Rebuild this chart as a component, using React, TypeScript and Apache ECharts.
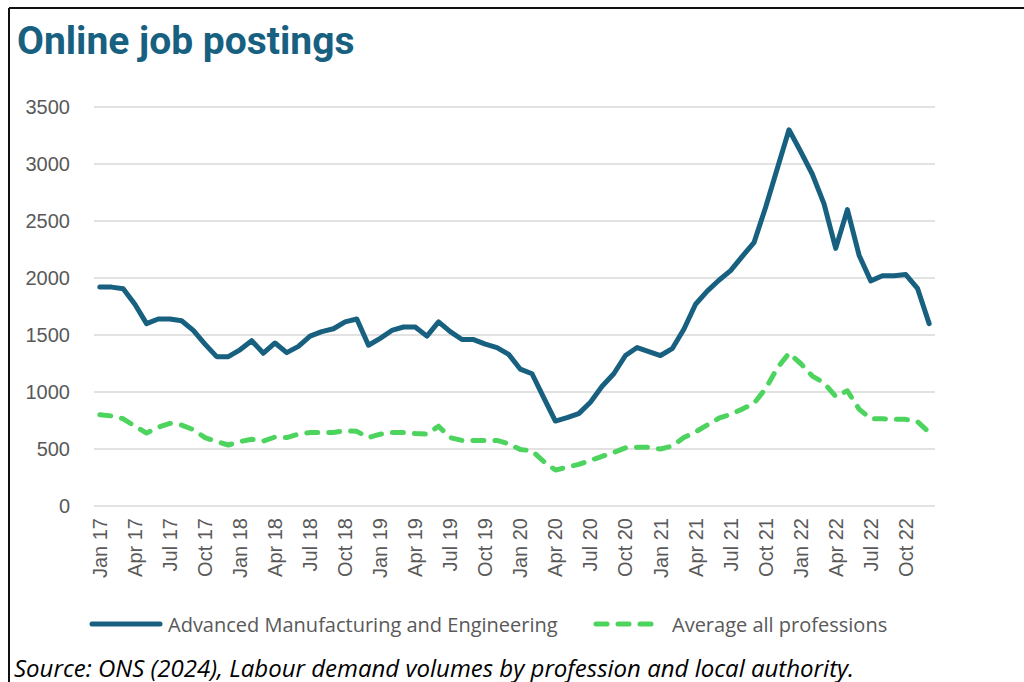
import React, { useEffect, useRef } from "react";
import * as echarts from "echarts";

const months = ["Jan", "Feb", "Mar", "Apr", "May", "Jun", "Jul", "Aug", "Sep", "Oct", "Nov", "Dec"];
const years = ["17", "18", "19", "20", "21", "22"];
const categories = years.flatMap((y) => months.map((m) => `${m} ${y}`));

const advancedManufacturing = [
  1920, 1920, 1905, 1770, 1600, 1640, 1640, 1625, 1540, 1420, 1310, 1310,
  1370, 1450, 1340, 1430, 1345, 1400, 1490, 1530, 1555, 1615, 1640, 1410,
  1470, 1540, 1570, 1570, 1490, 1615, 1530, 1460, 1460, 1420, 1390, 1330,
  1200, 1160, 950, 745, 775, 810, 910, 1050, 1160, 1320, 1390, 1355,
  1320, 1380, 1550, 1770, 1885, 1980, 2065, 2190, 2310, 2620, 2960, 3300,
  3110, 2910, 2650, 2260, 2600, 2200, 1975, 2020, 2020, 2030, 1910, 1600,
];

const averageAll = [
  800, 790, 765, 700, 640, 690, 725, 710, 670, 600, 565, 535,
  565, 585, 570, 605, 600, 630, 645, 645, 645, 660, 655, 600,
  630, 645, 645, 635, 630, 700, 600, 575, 575, 575, 575, 545,
  495, 485, 390, 315, 340, 365, 400, 435, 470, 510, 515, 515,
  500, 525, 600, 650, 710, 770, 805, 850, 900, 1030, 1210, 1340,
  1250, 1140, 1080, 960, 1010, 850, 765, 765, 760, 760, 740, 645,
];

const seriesNames = ["Advanced Manufacturing and Engineering", "Average all professions"];
const titleText = "Online job postings";
const sourceText = "Source: ONS (2024), Labour demand volumes by profession and local authority.";

const BLUE = "#17607F";
const GREEN = "#4CD45E";
const GREY = "#595959";

export default function App() {
  const ref = useRef<HTMLDivElement>(null);

  useEffect(() => {
    if (!ref.current) return;
    const chart = echarts.init(ref.current, undefined, { renderer: "svg" });
    chart.setOption({
      animation: false,
      backgroundColor: "#ffffff",
      grid: { left: 94, right: 89, top: 107, bottom: 176, containLabel: false },
      xAxis: {
        type: "category",
        data: categories,
        boundaryGap: true,
        axisLine: { show: false },
        axisTick: { show: false },
        axisLabel: {
          interval: 2,
          rotate: 90,
          margin: 12,
          color: GREY,
          fontSize: 20,
          fontFamily: "Liberation Sans, Arial, sans-serif",
        },
        splitLine: { show: false },
      },
      yAxis: {
        type: "value",
        min: 0,
        max: 3500,
        interval: 500,
        axisLine: { show: false },
        axisTick: { show: false },
        axisLabel: {
          margin: 24,
          color: GREY,
          fontSize: 20,
          fontFamily: "Liberation Sans, Arial, sans-serif",
          formatter: (v: number) => String(v),
        },
        splitLine: { lineStyle: { color: "#d9d9d9", width: 1.5 } },
      },
      series: [
        {
          name: seriesNames[0],
          type: "line",
          data: advancedManufacturing,
          symbol: "none",
          lineStyle: { color: BLUE, width: 5, cap: "round", join: "round" },
          itemStyle: { color: BLUE },
        },
        {
          name: seriesNames[1],
          type: "line",
          data: averageAll,
          symbol: "none",
          lineStyle: { color: GREEN, width: 5, type: [11, 11], cap: "round", join: "round" },
          itemStyle: { color: GREEN },
        },
      ],
      graphic: [
        { type: "line", shape: { x1: 9, y1: 8, x2: 1024, y2: 8 }, style: { stroke: "#111", lineWidth: 2 } },
        { type: "line", shape: { x1: 9, y1: 8, x2: 9, y2: 682 }, style: { stroke: "#111", lineWidth: 2 } },
        {
          type: "text",
          x: 17,
          y: 41,
          style: {
            text: titleText,
            fill: BLUE,
            font: "bold 39px Roboto, sans-serif",
            textVerticalAlign: "middle",
          },
        },
        {
          type: "line",
          shape: { x1: 92, y1: 624, x2: 160, y2: 624 },
          style: { stroke: BLUE, lineWidth: 5, lineCap: "round" },
        },
        {
          type: "text",
          x: 168,
          y: 624,
          style: {
            text: seriesNames[0],
            fill: GREY,
            font: "20px 'Open Sans', sans-serif",
            textVerticalAlign: "middle",
          },
        },
        {
          type: "line",
          shape: { x1: 596, y1: 624, x2: 658, y2: 624 },
          style: { stroke: GREEN, lineWidth: 5, lineCap: "round", lineDash: [11, 11] },
        },
        {
          type: "text",
          x: 672,
          y: 624,
          style: {
            text: seriesNames[1],
            fill: GREY,
            font: "20px 'Open Sans', sans-serif",
            textVerticalAlign: "middle",
          },
        },
        {
          type: "text",
          x: 14,
          y: 667,
          style: {
            text: sourceText,
            fill: "#000",
            font: "italic 24px 'Open Sans', sans-serif",
            textVerticalAlign: "middle",
          },
        },
      ],
    });
    return () => chart.dispose();
  }, []);

  return (
    <div
      style={{ position: "fixed", left: 0, top: 0, width: 1024, height: 682, overflow: "hidden", background: "#fff" }}
    >
      <div ref={ref} style={{ width: 1024, height: 682 }} />
    </div>
  );
}
